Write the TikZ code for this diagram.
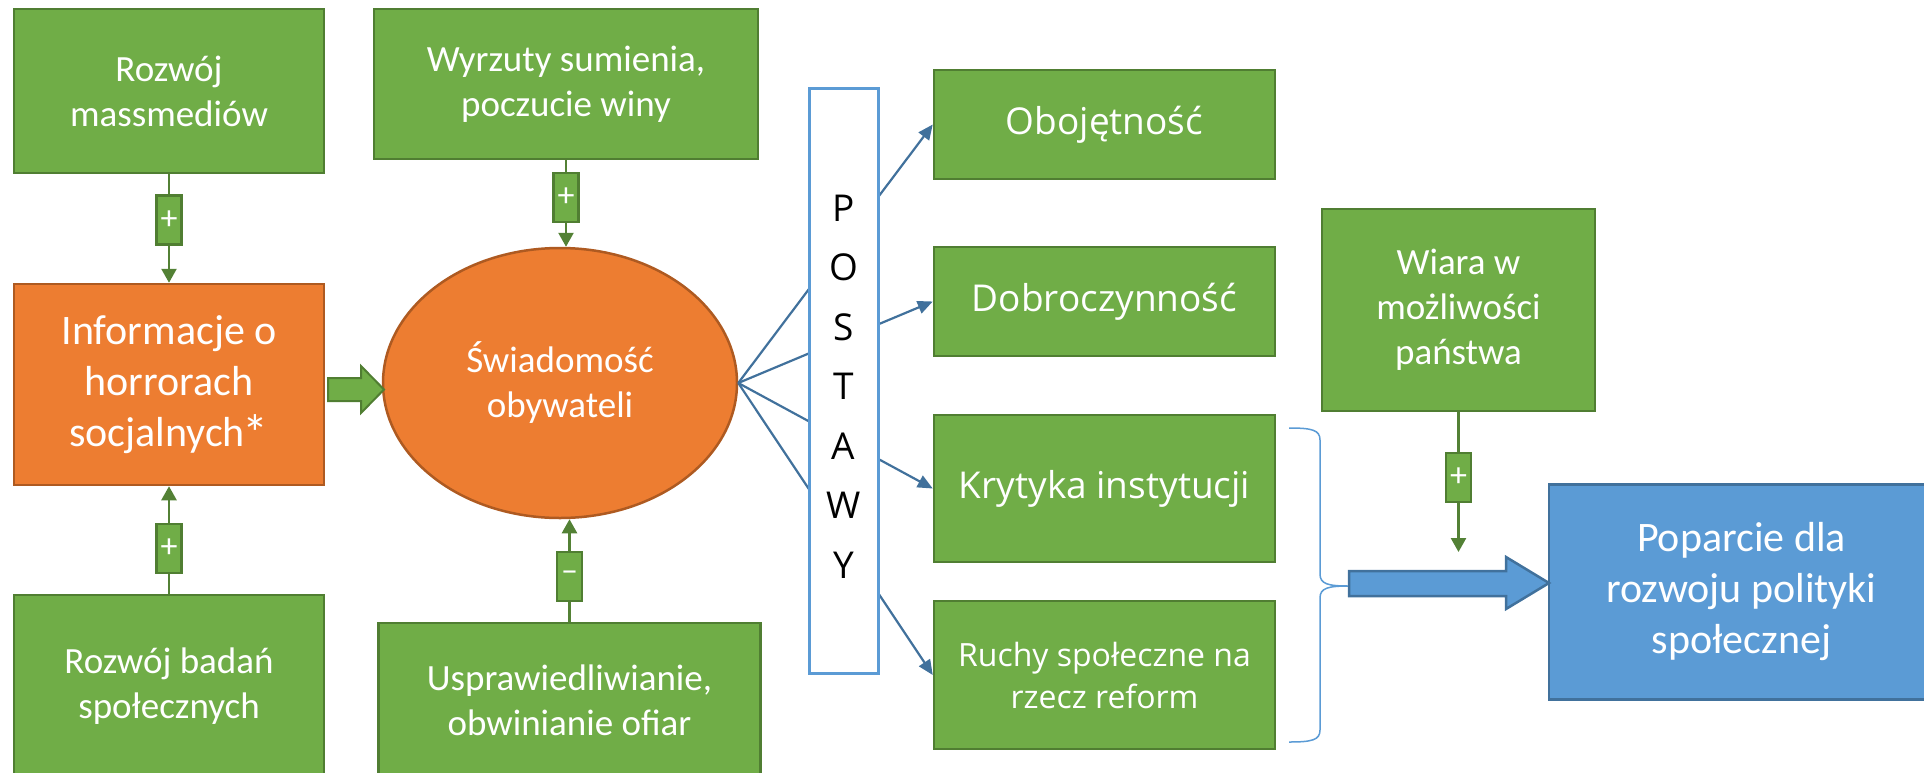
\documentclass[tikz,border=0pt]{standalone}
\usepackage{fontspec}
\setmainfont{Carlito}
\newfontfamily\osans{Open Sans}
\usetikzlibrary{arrows.meta,shapes.geometric}
\definecolor{gfill}{HTML}{70AD47}
\definecolor{gline}{HTML}{507E32}
\definecolor{ofill}{HTML}{ED7D31}
\definecolor{oline}{HTML}{AE5A21}
\definecolor{bfill}{HTML}{5B9BD5}
\definecolor{bline}{HTML}{41719C}
\definecolor{garr}{HTML}{538135}
\begin{document}
\begin{tikzpicture}[x=1pt,y=-1pt,
  box/.style={rectangle,line width=2.5pt,text=white,align=center,inner sep=0pt,font=\fontsize{37}{45}\selectfont},
  gbox/.style={box,draw=gline,fill=gfill},
  obox/.style={box,draw=oline,fill=ofill},
  bbox/.style={box,draw=bline,fill=bfill},
  rbox/.style={gbox,minimum width=341pt,font=\osans\fontsize{37}{50}\selectfont},
  sign/.style={gbox,minimum width=25pt,minimum height=49pt,font=\fontsize{34}{34}\selectfont},
  garrow/.style={draw=garr,line width=2.5pt},
  gtip/.style={garrow,-{Triangle[length=14pt,width=15pt]}},
  barrow/.style={draw=bline,line width=2.2pt,-{Triangle[length=15pt,width=13pt]}}]
\clip (0,0) rectangle (1924,772);
% left column
\node[gbox,minimum width=310pt,minimum height=164pt] (rm) at (169,91) {Rozwój\\massmediów};
\node[obox,minimum width=310pt,minimum height=201pt,font=\fontsize{42}{51}\selectfont] (info) at (169,384.5) {Informacje o\\horrorach\\socjalnych\kern-2pt\raisebox{-5pt}{\fontsize{52}{51}\selectfont *}};
\node[gbox,minimum width=310pt,minimum height=182pt] (rb) at (169,686) {Rozwój badań\\społecznych};
% middle column
\node[gbox,minimum width=384pt,minimum height=150pt] (wy) at (566,84) {Wyrzuty sumienia,\\poczucie winy};
\node[ellipse,draw=oline,fill=ofill,line width=2.5pt,minimum width=354pt,minimum height=270pt,inner sep=0pt,text=white,align=center,font=\fontsize{37}{45}\selectfont] (ell) at (560,383) {Świadomość\\obywateli};
\node[gbox,minimum width=382pt,minimum height=155pt] (us) at (569.5,700.5) {Usprawiedliwianie,\\obwinianie ofiar};
% sign boxes and arrows
\node[sign] (p1) at (169,220) {+};
\node[sign] (p2) at (566,197.5) {+};
\node[sign] (p3) at (169,548.5) {+};
\node[sign] (m1) at (569.5,576.5) {–};
\draw[garrow] (rm.south) -- (p1.north);
\draw[gtip] (p1.south) -- (info.north);
\draw[garrow] (rb.north) -- (p3.south);
\draw[gtip] (p3.north) -- (info.south);
\draw[garrow] (wy.south) -- (p2.north);
\draw[gtip] (p2.south) -- (p2.south |- ell.north);
\draw[garrow] (us.north) -- (m1.south);
\draw[gtip] (m1.north) -- (m1.north |- ell.south);
% wide green arrow
\filldraw[fill=gfill,draw=gline,line width=2pt] (328,378) -- (361,378) -- (361,366) -- (384,389.5) -- (361,413) -- (361,401) -- (328,401) -- cycle;
% right boxes
\node[rbox,minimum height=109pt] (ob) at (1104.5,124.5) {Obojętność};
\node[rbox,minimum height=109pt] (db) at (1104.5,301.5) {Dobroczynność};
\node[rbox,minimum height=147pt] (kr) at (1104.5,488.5) {Krytyka instytucji};
\node[rbox,minimum height=148pt,font=\osans\fontsize{32}{42}\selectfont] (ru) at (1104.5,675) {Ruchy społeczne na\\rzecz reform};
\foreach \t in {ob,db,kr,ru} \draw[barrow] (ell.east) -- (\t.west);
% POSTAWY
\node[draw=bfill,fill=white,line width=3pt,minimum width=69pt,minimum height=585pt,inner sep=0pt] (postawy) at (843.5,380.5) {};
\node[font=\osans\fontsize{37}{59.5}\selectfont,align=center,inner sep=0pt] (postawytxt) at (843.5,386.5) {P\\O\\S\\T\\A\\W\\Y};
% Wiara and Poparcie
\node[gbox,minimum width=273pt,minimum height=202pt] (wi) at (1458.5,310) {Wiara w\\możliwości\\państwa};
\node[bbox,minimum width=385pt,minimum height=215pt,font=\fontsize{42}{51}\selectfont] (po) at (1741.5,592) {Poparcie dla\\rozwoju polityki\\społecznej};
\node[sign] (p4) at (1458.5,477.5) {+};
\coordinate (p4end) at (1458.5,552);
\draw[garrow] (wi.south) -- (p4.north);
\draw[gtip] (p4.south) -- (p4end);
% brace
\draw[bfill,line width=1.5pt] (1289,428) .. controls (1312,428) and (1320,430) .. (1320,440) -- (1320,574) .. controls (1320,584) and (1328,586) .. (1349,586) .. controls (1328,586) and (1320,588) .. (1320,598) -- (1320,730) .. controls (1320,740) and (1312,742) .. (1289,742);
% big blue arrow
\filldraw[fill=bfill,draw=bline,line width=2.5pt] (1349,571) -- (1506,571) -- (1506,557) -- (1549,583) -- (1506,609) -- (1506,596) -- (1349,596) -- cycle;
\end{tikzpicture}
\end{document}
